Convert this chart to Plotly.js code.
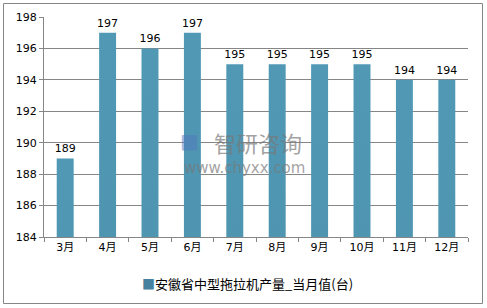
<!DOCTYPE html>
<html>
<head>
<meta charset="utf-8">
<script src="https://cdn.plot.ly/plotly-3.0.1.min.js"></script>
<style>
html,body{margin:0;padding:0;background:#fff;}
#chart{width:487px;height:308px;}
</style>
</head>
<body>
<svg width="0" height="0" style="position:absolute">
  <defs>
    <linearGradient id="barGrad" x1="0" y1="0" x2="0" y2="1">
      <stop offset="0%" stop-color="#5098b4"/>
      <stop offset="100%" stop-color="#39687d"/>
    </linearGradient>
  </defs>
</svg>
<div id="chart"></div>
<script>
var categories = ['3月','4月','5月','6月','7月','8月','9月','10月','11月','12月'];
var values = [189,197,196,197,195,195,195,195,194,194];
var seriesName = '安徽省中型拖拉机产量_当月值(台)';
var yTicks = [184,186,188,190,192,194,196,198];

var numFont = 'DejaVu Sans, Noto Sans CJK SC, sans-serif';
var cjkFont = 'Noto Sans CJK SC, DejaVu Sans, sans-serif';
var barColor = '#4682a0';
var L = 44, R = 19, T = 17, B = 71, W = 487, H = 308;
var pw = W - L - R, ph = H - T - B;
function px(x){ return (x - L) / pw; }
function py(y){ return (H - B - y) / ph; }

var trace = {
  type: 'bar',
  x: categories,
  y: values,
  name: seriesName,
  marker: {color: barColor},
  text: values.map(String),
  textposition: 'outside',
  constraintext: 'none',
  cliponaxis: false,
  textfont: {family: numFont, size: 11, color: '#000'},
  showlegend: false
};

var layout = {
  width: W, height: H,
  margin: {l: L, r: R, t: T, b: B, pad: 0},
  paper_bgcolor: '#fff',
  plot_bgcolor: '#fff',
  bargap: 0.6,
  font: {family: numFont, size: 11, color: '#000'},
  xaxis: {
    type: 'category',
    showgrid: false,
    showline: true, linecolor: '#868686', linewidth: 1,
    ticks: 'outside', tickson: 'boundaries', ticklen: 4, tickcolor: '#868686',
    tickfont: {family: numFont, size: 11, color: '#000'},
    fixedrange: true
  },
  yaxis: {
    range: [184, 198],
    tickvals: yTicks,
    ticktext: yTicks.map(String),
    showgrid: true, gridcolor: '#868686', gridwidth: 1,
    showline: true, linecolor: '#868686', linewidth: 1,
    ticks: 'outside', ticklen: 4, tickcolor: '#868686',
    tickfont: {family: numFont, size: 11, color: '#000'},
    zeroline: false,
    fixedrange: true
  },
  showlegend: false,
  shapes: [{
    type: 'rect', xref: 'paper', yref: 'paper',
    x0: px(3.5), x1: px(482.5), y0: py(303.5), y1: py(3.5),
    line: {color: '#868686', width: 1}, fillcolor: 'rgba(0,0,0,0)', layer: 'below'
  }],
  annotations: [
    {xref: 'paper', yref: 'paper', x: px(140), y: py(283), xanchor: 'left', yanchor: 'middle',
     text: '<span style="color:' + barColor + '">■</span>' + seriesName,
     showarrow: false, font: {family: cjkFont, size: 13, color: '#000'}},
    {xref: 'paper', yref: 'paper', x: px(258), y: py(142), text: '智研咨询',
     showarrow: false, font: {family: cjkFont, size: 22, color: 'rgba(120,120,120,0.7)'}, xanchor: 'center', yanchor: 'middle'},
    {xref: 'paper', yref: 'paper', x: px(189), y: py(141), text: '■',
     showarrow: false, font: {family: numFont, size: 20, color: 'rgba(80,120,190,0.5)'}, xanchor: 'center', yanchor: 'middle'},
    {xref: 'paper', yref: 'paper', x: px(244), y: py(168), text: 'www.chyxx.com',
     showarrow: false, font: {family: 'DejaVu Sans, sans-serif', size: 15, color: 'rgba(120,120,120,0.7)'}, xanchor: 'center', yanchor: 'middle'}
  ]
};

function applyGradient(gd){
  var paths = gd.querySelectorAll('g.bars path, .barlayer path');
  for (var i = 0; i < paths.length; i++) {
    paths[i].style.setProperty('fill', 'url(#barGrad)');
  }
}

var gd = document.getElementById('chart');
Plotly.newPlot(gd, [trace], layout, {displayModeBar: false, staticPlot: true});
applyGradient(gd);
if (gd._fullLayout) {
  Promise.resolve().then(function(){ applyGradient(gd); });
}
gd.on && gd.on('plotly_afterplot', function(){ applyGradient(gd); });
</script>
</body>
</html>
